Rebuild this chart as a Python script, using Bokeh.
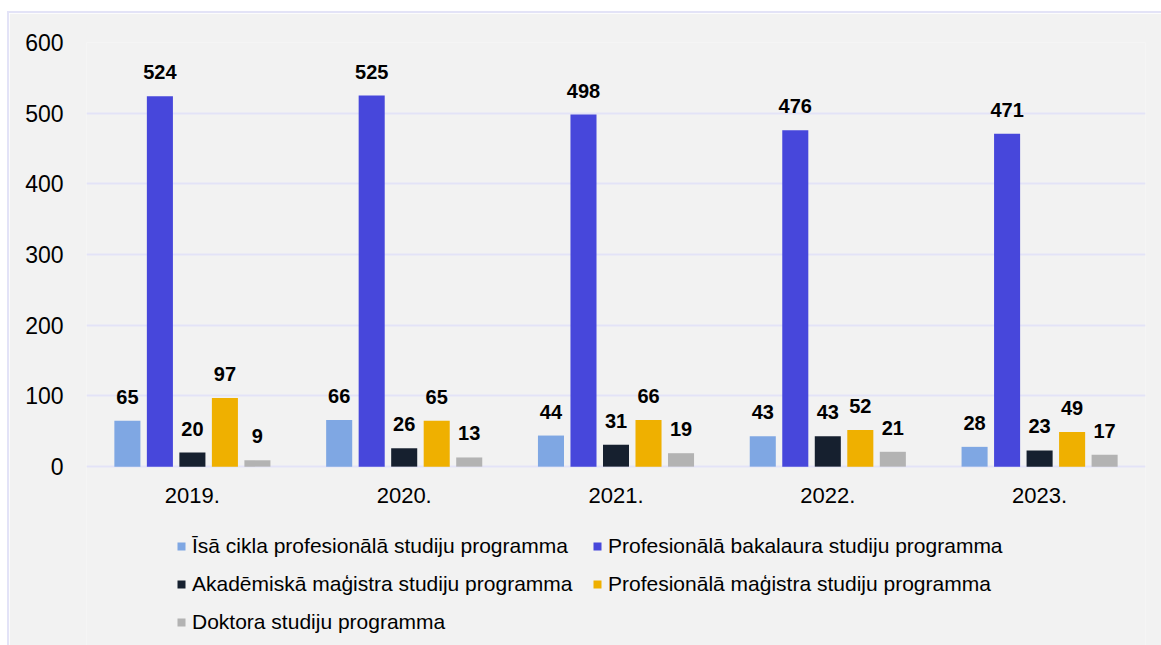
from bokeh.plotting import figure
from bokeh.models import ColumnDataSource, Legend, LegendItem, FixedTicker, Range1d, Spacer
from bokeh.layouts import column, row
from bokeh.transform import dodge
from bokeh.core.properties import value
from bokeh.embed import file_html
from bokeh.resources import INLINE

years = ["2019.", "2020.", "2021.", "2022.", "2023."]
series_names = [
    "Īsā cikla profesionālā studiju programma",
    "Profesionālā bakalaura studiju programma",
    "Akadēmiskā maģistra studiju programma",
    "Profesionālā maģistra studiju programma",
    "Doktora studiju programma",
]
isa_cikla = [65, 66, 44, 43, 28]
prof_bakalaura = [524, 525, 498, 476, 471]
akad_magistra = [20, 26, 31, 43, 23]
prof_magistra = [97, 65, 66, 52, 49]
doktora = [9, 13, 19, 21, 17]
y_ticks = [0, 100, 200, 300, 400, 500, 600]

series_values = [isa_cikla, prof_bakalaura, akad_magistra, prof_magistra, doktora]
colors = ["#7fa7e3", "#4747db", "#16202f", "#efb000", "#b3b3b3"]

FONT = "Liberation Sans"
BG = "#f2f2f2"
GRID = "#e3e3f7"
EDGE = "#e3e3f7"

W, H = 1152, 632
# the plot frame extends down under the category labels and legend
p = figure(
    x_range=years, y_range=Range1d(-253, 600),
    width=W, height=H,
    output_backend="svg", toolbar_location=None,
    x_axis_location=None,
    min_border_left=77, min_border_right=16, min_border_top=29, min_border_bottom=0,
)
p.background_fill_color = BG
p.border_fill_color = BG
p.outline_line_color = None

step = 0.1535
bw = 0.123
renderers = []
for i, (name, vals, col) in enumerate(zip(series_names, series_values, colors)):
    src = ColumnDataSource(dict(year=years, v=vals, lab=[str(v) for v in vals]))
    off = (i - 2) * step
    r = p.vbar(x=dodge("year", off, range=p.x_range), top="v", width=bw, source=src,
               fill_color=col, line_color=None)
    renderers.append(r)
    p.text(x=dodge("year", off, range=p.x_range), y="v", text="lab", source=src,
           text_align="center", text_baseline="alphabetic", y_offset=-24,
           text_font=value(FONT), text_font_size="20px", text_font_style="bold",
           text_color="#000000")

# category labels under the zero line
cat_src = ColumnDataSource(dict(year=years, zero=[0] * len(years)))
p.text(x="year", y="zero", text="year", source=cat_src,
       text_align="center", text_baseline="middle", y_offset=29,
       text_font=value(FONT), text_font_size="22px", text_color="#000000")

p.xgrid.grid_line_color = None
p.ygrid.grid_line_color = GRID
p.ygrid.grid_line_width = 2
p.yaxis.ticker = FixedTicker(ticks=y_ticks)
p.yaxis.axis_line_color = None
p.yaxis.major_tick_line_color = None
p.yaxis.minor_tick_line_color = None
p.yaxis.major_label_text_font = FONT
p.yaxis.major_label_text_color = "#000000"
p.yaxis.major_label_text_font_size = "23px"
p.yaxis.major_label_standoff = 17

legend = Legend(
    items=[LegendItem(label=n, renderers=[r]) for n, r in zip(series_names, renderers)],
    orientation="horizontal", ncols=2,
    location=(90, 11),
    label_text_font=FONT, label_text_font_size="21px", label_text_color="#000000",
    glyph_width=10, glyph_height=10, label_standoff=6,
    spacing=14, label_height=18, label_width=386,
    background_fill_alpha=0, border_line_color=None,
    padding=0, margin=0,
)
p.add_layout(legend, "center")

layout = row(
    Spacer(width=7, height=645),
    column(
        Spacer(width=W + 2, height=11),
        Spacer(width=W + 2, height=2, styles={"background-color": EDGE}),
        row(Spacer(width=2, height=H, styles={"background-color": EDGE}), p, spacing=0),
        spacing=0,
    ),
    spacing=0,
)

open("out.html", "w").write(file_html(layout, INLINE))
